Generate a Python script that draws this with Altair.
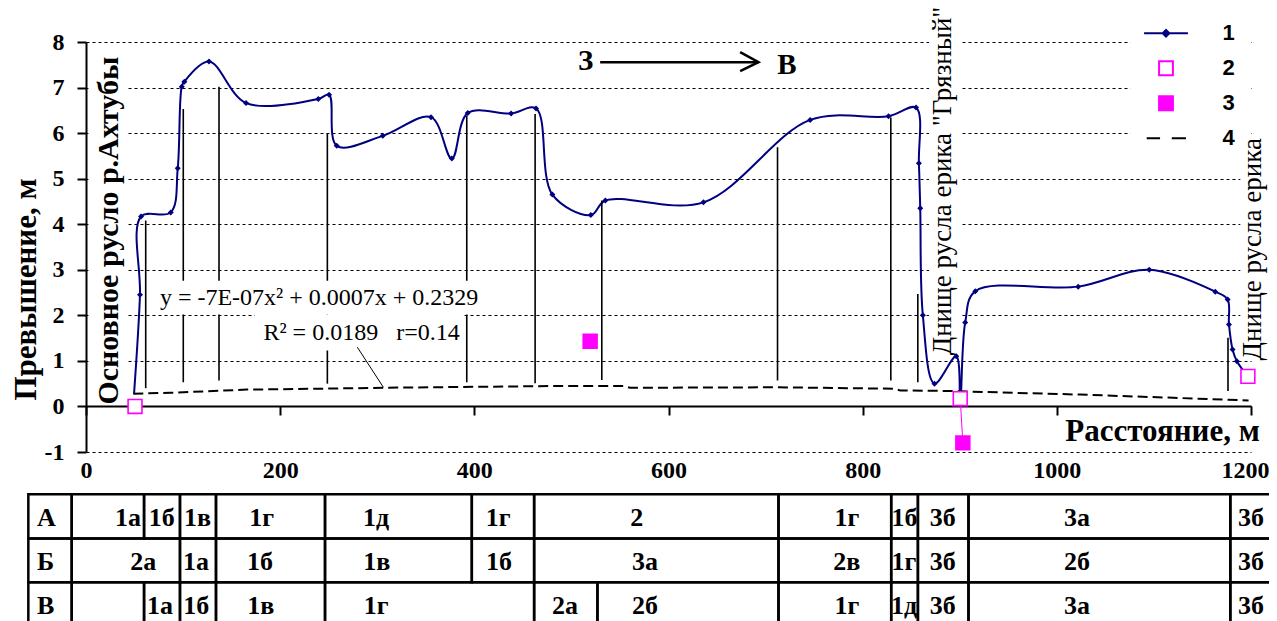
import altair as alt
import pandas as pd

# ---------------- data (distance along profile, m ; elevation, m) ----------------
# 1 - ground surface profile
dist_1 = [49.5, 55.6, 56.7, 87.3, 94.5, 98.6, 101.3, 126.7, 164.8, 239.3,
          250.4, 258.3, 305.7, 355.4, 376.8, 393.2, 437.9, 463.6, 480.4, 520.0,
          535.0, 636.0, 745.9, 826.6, 855.0, 857.9, 859.3, 862.0, 874.0, 896.4,
          900.5, 905.6, 916.0, 1022.0, 1095.2, 1163.2, 1175.9, 1177.3, 1181.0, 1185.5,
          1196.8]
elev_1 = [0.28, 2.45, 4.17, 4.26, 5.23, 7.02, 7.13, 7.57, 6.66, 6.75,
          6.84, 5.72, 5.94, 6.35, 5.44, 6.44, 6.43, 6.54, 4.65, 4.20,
          4.52, 4.48, 6.29, 6.37, 6.56, 5.34, 4.35, 2.00, 0.50, 1.10,
          0.17, 1.84, 2.53, 2.63, 3.00, 2.52, 2.35, 1.80, 1.25, 0.99,
          0.66]
# 2 - open squares
dist_2 = [50.5, 900.5, 1196.8]
elev_2 = [0.0, 0.17, 0.66]
# 3 - filled squares
dist_3 = [519.3, 903.2]
elev_3 = [1.43, -0.80]
# 4 - dashed line
dist_4 = [48.7, 86.5, 165.6, 241.0, 306.3, 491.8, 553.6, 560.5, 711.6, 831.8,
          838.7, 886.8, 1024.0, 1120.0, 1197.5]
elev_4 = [0.28, 0.30, 0.37, 0.39, 0.41, 0.45, 0.45, 0.41, 0.42, 0.39,
          0.35, 0.34, 0.26, 0.19, 0.13]
# vertical boundary lines
bound_x = [61.5, 100.2, 137.0, 248.6, 392.2, 462.6, 531.3, 712.3, 829.0, 856.8, 1176.3]
bound_lo = [0.40, 0.53, 0.57, 0.50, 0.53, 0.51, 0.58, 0.57, 0.57, 0.53, 0.34]
bound_hi = [4.08, 6.53, 7.02, 6.00, 6.38, 6.42, 4.52, 5.69, 6.34, 2.47, 1.51]

x_ticks = [0, 200, 400, 600, 800, 1000, 1200]
y_ticks = [-1, 0, 1, 2, 3, 4, 5, 6, 7, 8]
legend_names = ["1", "2", "3", "4"]

# table below the chart (cell edges in m along the profile)
row_names = ["А", "Б", "В"]
row_label_col = [-59.4, -14.7]
edges_a = [-14.7, 59.8, 96.8, 133.9, 246.2, 397.4, 461.6, 713.3, 829.4, 856.9, 909.0, 1178.7, 1225.0]
labels_a = ["1а", "1б", "1в", "1г", "1д", "1г", "2", "1г", "1б", "3б", "3а", "3б"]
labx_a = [43.3, 78.0, 114.9, 181.0, 298.8, 424.5, 567.4, 783.7, 843.1, 882.4, 1020.7, 1200.1]
edges_b = [-14.7, 96.8, 133.9, 246.2, 397.4, 461.6, 713.3, 829.4, 856.9, 909.0, 1178.7, 1225.0]
labels_b = ["2а", "1а", "1б", "1в", "1б", "3а", "2в", "1г", "3б", "2б", "3б"]
labx_b = [59.0, 113.3, 179.3, 299.5, 425.5, 575.9, 783.7, 842.6, 882.4, 1020.7, 1200.1]
edges_c = [-14.7, 59.8, 96.8, 133.9, 246.2, 461.6, 526.8, 713.3, 829.4, 856.9, 909.0, 1178.7, 1225.0]
labels_c = ["", "1а", "1б", "1в", "1г", "2а", "2б", "1г", "1д", "3б", "3а", "3б"]
labx_c = [20.0, 76.2, 113.6, 180.1, 298.8, 493.5, 575.9, 783.7, 842.6, 882.4, 1020.7, 1200.1]

# ---------------- layout / style ----------------
W, H = 1165, 410
SERIF = "Liberation Serif"
NAVY = "#000080"
MAG = "#FF00FF"
ROW_TOP = [-1.93, -2.90, -3.86]
ROW_BOT = [-2.90, -3.86, -4.83]
NB = "\u00a0"

xs = alt.Scale(domain=[0, 1200], nice=False, zero=False)
ys = alt.Scale(domain=[-1, 8], nice=False, zero=False)

x_axis = alt.Axis(
    values=x_ticks, labelExpr="'' + datum.value", offset=-46,
    title="Расстояние, м", titleX=1076, titleY=25, titleAlign="center", titleBaseline="middle",
    titleFont=SERIF, titleFontSize=31, titleFontWeight="bold", titleColor="black",
    labelFont=SERIF, labelFontSize=24, labelFontWeight="bold", labelColor="black",
    labelPadding=43, labelFlush=False, labelOverlap=False,
    labelOffset={"condition": {"test": "datum.value === 1200", "value": -6}, "value": 0},
    tickSize=9, tickWidth=2, tickColor="black", domainWidth=2, domainColor="black", grid=False,
)
y_axis = alt.Axis(
    values=y_ticks, labelExpr="'' + datum.value",
    title="Превышение, м", titleX=-60, titleY=247, titleAngle=270, titleAlign="center",
    titleBaseline="middle", titleFont=SERIF, titleFontSize=31, titleFontWeight="bold",
    titleColor="black",
    labelFont=SERIF, labelFontSize=24, labelFontWeight="bold", labelColor="black",
    labelPadding=13, tickSize=9, tickWidth=2, tickColor="black",
    domainWidth=2, domainColor="black",
    grid=True, gridColor="black", gridDash=[3, 3], gridWidth=1, gridOpacity=1,
)


def X(f):
    return alt.X(f, type="quantitative", scale=xs, axis=x_axis)


def Y(f):
    return alt.Y(f, type="quantitative", scale=ys, axis=y_axis)


df1 = pd.DataFrame({"x": dist_1, "y": elev_1})
df4 = pd.DataFrame({"x": dist_4, "y": elev_4})
dfb = pd.DataFrame({"x": bound_x, "lo": bound_lo, "hi": bound_hi})
df23 = pd.DataFrame({
    "x": dist_2 + dist_3,
    "y": elev_2 + elev_3,
    "s": ["2"] * len(dist_2) + ["3"] * len(dist_3),
})
dfconn = pd.DataFrame({"x": [dist_2[1]], "y": [elev_2[1]], "x2": [dist_3[1]], "y2": [elev_3[1]]})

# white label / legend backgrounds
bg = pd.DataFrame({
    "x0": [2.5, 68.0, 174.0, 868.5, 1189.0, 1075.6],
    "x1": [43.3, 410.4, 389.4, 901.5, 1222.0, 1200.0],
    "y0": [0.25, 2.02, 1.23, 1.23, 1.45, 5.75],
    "y1": [7.75, 2.76, 2.02, 8.4, 5.83, 8.3],
})

main_line = alt.Chart(df1).mark_line(color=NAVY, strokeWidth=2, interpolate="catmull-rom").encode(
    x=X("x"), y=Y("y")
)
markers = alt.Chart(df1.iloc[1:-1]).mark_point(
    shape="diamond", filled=True, color=NAVY, size=36, opacity=1
).encode(x=X("x"), y=Y("y"))

vlines = alt.Chart(dfb).mark_rule(color="black", strokeWidth=1.6).encode(
    x=X("x"), y=Y("lo"), y2="hi"
)
bgs = alt.Chart(bg).mark_rect(fill="white").encode(
    x=X("x0"), x2="x1", y=Y("y0"), y2="y1"
)
dash = alt.Chart(df4).mark_line(color="black", strokeWidth=2, strokeDash=[10, 5]).encode(
    x=X("x"), y=Y("y")
)
conn = alt.Chart(dfconn).mark_rule(color=MAG, strokeWidth=1).encode(
    x=X("x"), y=Y("y"), x2="x2", y2="y2"
)

P_LINE = "M-1.33,0H1.33M0,-0.2L0.2,0L0,0.2L-0.2,0Z"
P_SQ = "M-0.42,-0.42H0.42V0.42H-0.42Z"
P_DASH = "M-1.17,0H-0.36M0.35,0H1.21"
leg = alt.Legend(
    title=None, orient="none", legendX=1058.5, legendY=-30.2, padding=4,
    labelFont="Liberation Sans", labelFontSize=22, labelFontWeight="bold", labelColor="black",
    labelOffset=39, rowPadding=6, symbolSize=1089, symbolStrokeWidth=2,
)
squares = alt.Chart(df23).mark_point(size=1089, strokeWidth=1.6, opacity=1).encode(
    x=X("x"), y=Y("y"),
    shape=alt.Shape("s:N", scale=alt.Scale(domain=legend_names, range=[P_LINE, P_SQ, P_SQ, P_DASH]), legend=leg),
    fill=alt.Fill("s:N", scale=alt.Scale(domain=legend_names, range=[NAVY, "white", MAG, "transparent"]), legend=leg),
    stroke=alt.Stroke("s:N", scale=alt.Scale(domain=legend_names, range=[NAVY, MAG, MAG, "black"]), legend=leg),
)

# rotated annotations
ann1 = alt.Chart(pd.DataFrame({"x": [23.5], "y": [3.86], "t": ["Основное русло р.Ахтубы"]})).mark_text(
    angle=270, font=SERIF, fontSize=30, fontWeight="bold", color="black", align="center", baseline="middle"
).encode(x=X("x"), y=Y("y"), text="t:N")
ann2 = alt.Chart(pd.DataFrame({"x": [883.0, 1202.0], "y": [4.95, 3.45],
                               "t": ["Днище русла ерика \"Грязный\"", "Днище русла ерика"]})).mark_text(
    angle=270, font=SERIF, fontSize=27, color="black", align="center", baseline="middle"
).encode(x=X("x"), y=Y("y"), text="t:N")

# direction arrow З -> В
dirs = alt.Chart(pd.DataFrame({"x": [514.6, 721.9], "y": [7.59, 7.50], "t": ["З", "В"]})).mark_text(
    font=SERIF, fontSize=29, fontWeight="bold", color="black", align="center", baseline="middle"
).encode(x=X("x"), y=Y("y"), text="t:N")
shaft = alt.Chart(pd.DataFrame({"x": [529.6], "x2": [692.7], "y": [7.557]})).mark_rule(
    color="black", strokeWidth=2.5
).encode(x=X("x"), x2="x2", y=Y("y"))
head = alt.Chart(pd.DataFrame({"x": [673.8, 692.7, 673.8], "y": [7.776, 7.557, 7.36], "o": [0, 1, 2]})).mark_line(
    color="black", strokeWidth=2.5
).encode(x=X("x"), y=Y("y"), order="o:Q")

# trend equation
eq = alt.Chart(pd.DataFrame({"x": [240.1, 283.8], "y": [2.37, 1.62],
                             "t": ["y = -7E-07x² + 0.0007x + 0.2329",
                                   "R² = 0.0189" + NB * 3 + "r=0.14"]})).mark_text(
    font=SERIF, fontSize=24, color="black", align="center", baseline="middle"
).encode(x=X("x"), y=Y("y"), text="t:N")
leader = alt.Chart(pd.DataFrame({"x": [279.5], "x2": [306.3], "y": [1.30], "y2": [0.42]})).mark_rule(
    color="black", strokeWidth=1
).encode(x=X("x"), x2="x2", y=Y("y"), y2="y2")

# table
cells, texts = [], []
for i, (edges, labs, labx) in enumerate([(edges_a, labels_a, labx_a),
                                          (edges_b, labels_b, labx_b),
                                          (edges_c, labels_c, labx_c)]):
    cells.append({"x0": row_label_col[0], "x1": row_label_col[1], "y0": ROW_TOP[i], "y1": ROW_BOT[i]})
    texts.append({"x": -50.5, "y": (ROW_TOP[i] + ROW_BOT[i]) / 2 - 0.22, "t": row_names[i], "a": "left"})
    for j in range(len(edges) - 1):
        cells.append({"x0": edges[j], "x1": edges[j + 1], "y0": ROW_TOP[i], "y1": ROW_BOT[i]})
    for lx, lt in zip(labx, labs):
        texts.append({"x": lx, "y": (ROW_TOP[i] + ROW_BOT[i]) / 2 - 0.22, "t": lt, "a": "center"})
cells = pd.DataFrame(cells)
texts = pd.DataFrame(texts)

tcells = alt.Chart(cells).mark_rect(fill="transparent", stroke="black", strokeWidth=2.5).encode(
    x=X("x0"), x2="x1", y=Y("y0"), y2="y1"
)
ttext_c = alt.Chart(texts[texts.a == "center"]).mark_text(
    font=SERIF, fontSize=26, fontWeight="bold", color="black", align="center", baseline="alphabetic"
).encode(x=X("x"), y=Y("y"), text="t:N")
ttext_l = alt.Chart(texts[texts.a == "left"]).mark_text(
    font=SERIF, fontSize=26, fontWeight="bold", color="black", align="left", baseline="alphabetic"
).encode(x=X("x"), y=Y("y"), text="t:N")

chart = alt.layer(
    main_line, vlines, bgs, dash, markers, conn, squares, ann1, ann2, dirs, shaft, head, eq, leader,
    tcells, ttext_c, ttext_l
).properties(
    width=W, height=H,
    autosize=alt.AutoSizeParams(type="none"),
    padding={"left": 78, "top": 34, "right": 18, "bottom": 190},
).configure_view(stroke=None)

chart.save("out.html", embed_options={"renderer": "svg", "actions": False})
